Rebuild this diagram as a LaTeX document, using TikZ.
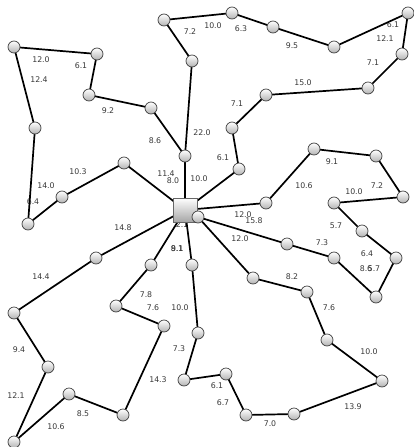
\documentclass[tikz,border=0pt]{standalone}
\usepackage{fontspec}
\setmainfont{DejaVu Sans}
\begin{document}
\begin{tikzpicture}[x=1pt,y=-1pt,
  dot/.style={circle,draw=black!75,line width=0.7pt,minimum size=12pt,inner sep=0pt,top color=white,bottom color=black!30},
  hub/.style={rectangle,draw=black!60,line width=0.7pt,minimum size=24pt,inner sep=0pt,top color=white,bottom color=black!35},
  lbl/.style={inner sep=0pt,text=black!78,font=\fontsize{7.8}{9}\selectfont},
  edge/.style={line width=1.7pt,black}]
\useasboundingbox (0,0) rectangle (414,447);
% labels (drawn first, beneath the lines)
\foreach \x/\y/\t in {41/60/12.0, 81/66/6.1, 39/80/12.4, 108/111/9.2, 155/141/8.6, 202/133/22.0,
  190/32/7.2, 213/26/10.0, 241/29/6.3, 292/46/9.5, 393/25/6.1, 385/39/12.1, 373/63/7.1,
  303/83/15.0, 237/104/7.1, 78/172/10.3, 46/186/14.0, 33/202/6.4, 166/174/11.4, 173/181/8.0,
  199/179/10.0, 123/228/14.8, 41/277/14.4, 182/225/2.1, 177/249/8.1, 177.4/249/9.1,
  223/158/6.1, 332/162/9.1, 304/186/10.6, 377/186/7.2, 354/192/10.0, 243/215/12.0,
  254/221/15.8, 336/226/5.7, 240/239/12.0, 322/243/7.3, 367/254/6.4, 366/269/8.6,
  374/269/5.7, 292/277/8.2, 146/295/7.8, 153/308/7.6, 180/308/10.0, 19/350/9.4,
  179/349/7.3, 158/380/14.3, 16/396/12.1, 83/414/8.5, 56/427/10.6, 329/308/7.6,
  369/352/10.0, 217/386/6.1, 223/403/6.7, 353/407/13.9, 270/424/7.0}
  \node[lbl] (l-\x-\y) at (\x,\y) {\t};
% node positions
\coordinate (pS) at (185,210);
\foreach \n/\x/\y in {E/198/217,
  A1/14/47, A2/97/54, A3/89/95, A4/151/108, A5/35/128,
  B1/164/20, B2/192/61, B3/185/156,
  C1/232/13, C2/273/27, C3/334/47, C4/408/13, C5/402/54, C6/368/88, C7/266/95, C8/232/128, C9/239/169,
  D1/124/163, D2/62/197, D3/28/224,
  F1/96/258, G1/151/265, H1/192/265,
  I1/266/203, I2/314/149, I3/376/156, I4/403/197, I5/334/203, I6/362/231, I7/396/258, I8/376/297,
  J1/287/244, J2/334/258,
  K1/253/278, K2/307/292, K3/327/340, K4/382/381, K5/294/414, K6/246/415, K7/226/374,
  L1/14/313, L2/48/367, L3/14/442, L4/69/394, L5/123/415, L6/164/326, L7/116/306,
  M1/198/333, M2/184/380}
  \coordinate (p\n) at (\x,\y);
% edges
\foreach \a/\b in {A1/A2, A2/A3, A3/A4, A4/B3, A1/A5, A5/D3, D3/D2, D2/D1, D1/S,
  B1/C1, B1/B2, B2/B3, B3/S, C1/C2, C2/C3, C3/C4, C4/C5, C5/C6, C6/C7, C7/C8, C8/C9, C9/S,
  S/I1, I1/I2, I2/I3, I3/I4, I4/I5, I5/I6, I6/I7, I7/I8, I8/J2, J2/J1, J1/E, E/K1,
  K1/K2, K2/K3, K3/K4, K4/K5, K5/K6, K6/K7, K7/M2, M2/M1, M1/H1, H1/S, S/G1,
  G1/L7, L7/L6, L6/L5, L5/L4, L4/L3, L3/L2, L2/L1, L1/F1, F1/S, S/E}
  \draw[edge] (p\a) -- (p\b);
% nodes
\node[hub] (S) at (pS) {};
\foreach \n in {E, A1, A2, A3, A4, A5, B1, B2, B3, C1, C2, C3, C4, C5, C6, C7, C8, C9,
  D1, D2, D3, F1, G1, H1, I1, I2, I3, I4, I5, I6, I7, I8, J1, J2,
  K1, K2, K3, K4, K5, K6, K7, L1, L2, L3, L4, L5, L6, L7, M1, M2}
  \node[dot] (\n) at (p\n) {};
\end{tikzpicture}
\end{document}
